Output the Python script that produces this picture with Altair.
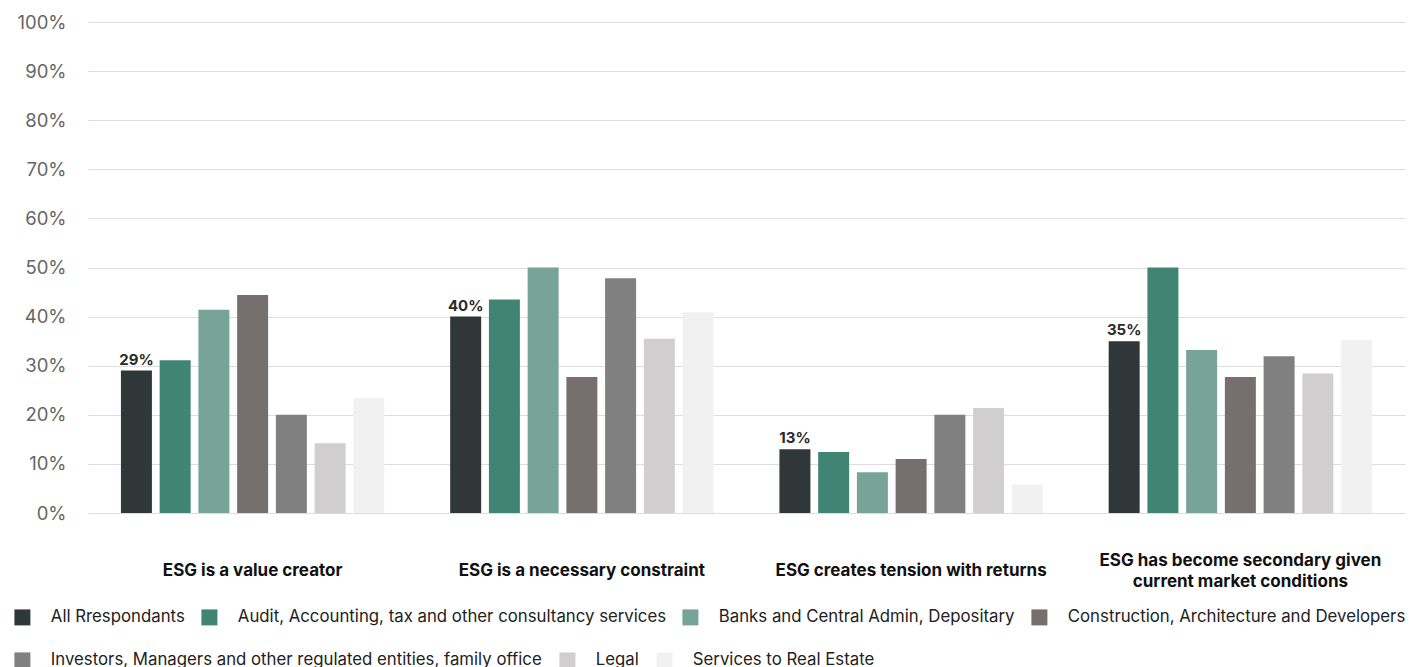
import altair as alt
import pandas as pd

# Survey statements (x groups) and respondent segments (bars within a group)
statements = [
    "ESG is a value creator",
    "ESG is a necessary constraint",
    "ESG creates tension with returns",
    "ESG has become secondary given\ncurrent market conditions",
]
segments = [
    "All Rrespondants",
    "Audit, Accounting, tax and other consultancy services",
    "Banks and Central Admin, Depositary",
    "Construction, Architecture and Developers",
    "Investors, Managers and other regulated entities, family office",
    "Legal",
    "Services to Real Estate",
]
colors = ["#2f3739", "#408474", "#77a496", "#75706e", "#808080", "#d0cecf", "#f1f1f1"]

# Share of respondents (%) per segment, one list per statement
value_creator = [29, 31.1, 41.4, 44.4, 20.0, 14.2, 23.4]
necessary_constraint = [40, 43.5, 50.0, 27.7, 47.8, 35.5, 40.9]
tension_with_returns = [13, 12.4, 8.3, 11.0, 20.0, 21.4, 5.8]
secondary_now = [35, 50.0, 33.2, 27.7, 31.9, 28.4, 35.3]

series = [value_creator, necessary_constraint, tension_with_returns, secondary_now]
rows = []
for stmt, vals in zip(statements, series):
    for seg, v in zip(segments, vals):
        rows.append({"statement": stmt, "segment": seg, "value": v})
df = pd.DataFrame(rows)
labels_df = pd.DataFrame({"statement": statements})

FONT = "Inter"
W, H = 1317, 491

# Legend entries flow across two rows; each swatch gets its own legend
# so the rows keep the natural label widths.
legend_pos = [(-74, 587), (113, 587), (594, 587), (943, 587),
              (-74, 630), (471, 630), (568, 630)]

x_scale = alt.Scale(domain=statements, paddingInner=0.2, paddingOuter=0.1)
x_enc = alt.X("statement:N", sort=statements, scale=x_scale, axis=None, title=None)
offset_enc = alt.XOffset("segment:N", sort=segments,
                         scale=alt.Scale(domain=segments, paddingInner=0.2, paddingOuter=0))
y_enc = alt.Y("value:Q", scale=alt.Scale(domain=[0, 100]),
              axis=alt.Axis(values=list(range(0, 101, 10)), labelExpr="datum.value + '%'",
                            title=None, domain=False, ticks=False, labelPadding=22,
                            labelFontSize=18.5, labelColor="#666666", labelFont=FONT,
                            gridColor="#dddddd", gridWidth=1))

bar_layers = []
for seg, col, (lx, ly) in zip(segments, colors, legend_pos):
    bar_layers.append(
        alt.Chart(df).transform_filter(alt.datum.segment == seg).mark_bar().encode(
            x=x_enc,
            xOffset=offset_enc,
            y=y_enc,
            color=alt.Color("segment:N", scale=alt.Scale(domain=[seg], range=[col]),
                            legend=alt.Legend(title=None, orient="none", legendX=lx, legendY=ly,
                                              padding=0, offset=0,
                                              symbolType="square", symbolSize=256,
                                              symbolStrokeWidth=0, labelOffset=20,
                                              labelFontSize=16.8, labelFont=FONT,
                                              labelColor="#222222", labelLimit=700)),
        )
    )

value_text = alt.Chart(df).transform_filter(
    alt.datum.segment == segments[0]
).transform_calculate(
    lbl="format(datum.value, '.0f') + '%'"
).mark_text(baseline="bottom", dy=-3, fontSize=15, fontWeight="bold",
            font=FONT, color="#2a2a2a").encode(
    x=x_enc,
    xOffset=offset_enc,
    y=y_enc,
    text="lbl:N",
)

def category_labels(multiline):
    test = "test(/\\n/, datum.statement)"
    return alt.Chart(labels_df).transform_filter(
        test if multiline else "!" + test
    ).mark_text(
        baseline="middle", align="center", lineBreak="\n", lineHeight=21,
        dy=-10.5 if multiline else 0,
        fontSize=17, fontWeight="bold", font=FONT, color="#111111",
    ).encode(
        x=x_enc,
        y=alt.value(H + 58),
        text="statement:N",
    )

chart = alt.layer(
    *bar_layers, value_text, category_labels(False), category_labels(True)
).resolve_scale(color="independent").properties(
    width=W, height=H,
    background="white",
    autosize=alt.AutoSizeParams(type="none"),
    padding={"left": 88, "top": 22, "right": 5, "bottom": 154},
).configure_view(stroke=None)

chart.save("out.html", embed_options={"renderer": "svg", "actions": False})
